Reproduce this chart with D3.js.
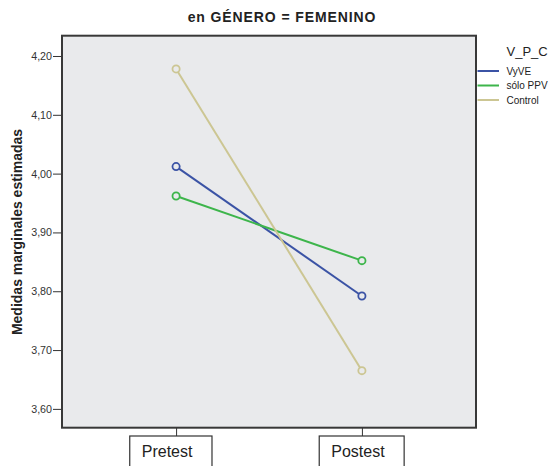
<!DOCTYPE html>
<html><head><meta charset="utf-8">
<script src="https://cdn.jsdelivr.net/npm/d3@7"></script>
<style>body{margin:0;background:#fff;} svg{display:block;font-family:"Liberation Sans",Arial,sans-serif;}</style>
</head><body>
<script>
const categories = ["Pretest", "Postest"];
const seriesNames = ["VyVE", "sólo PPV", "Control"];
const vyve = [4.012, 3.792];
const soloPPV = [3.962, 3.852];
const control = [4.178, 3.665];
const yTicks = [3.60, 3.70, 3.80, 3.90, 4.00, 4.10, 4.20];
const colors = ["#3b53a5", "#3db54b", "#ccc693"];

const W = 556, H = 466;
const m = {l: 62, r: 476, t: 35.7, b: 427.7};
const svg = d3.select("body").append("svg").attr("width", W).attr("height", H);

const x = d3.scalePoint().domain(categories).range([m.l, m.r]).padding(0.614);
const y = d3.scaleLinear().domain([3.568, 4.2345]).range([m.b, m.t]);

svg.append("rect").attr("x", m.l).attr("y", m.t).attr("width", m.r - m.l).attr("height", m.b - m.t)
  .attr("fill", "#e9eaec");

// y axis
const yAxis = svg.append("g").attr("transform", `translate(${m.l},0)`)
  .call(d3.axisLeft(y).tickValues(yTicks).tickSize(9).tickPadding(1).tickFormat(d => d3.format(".2f")(d).replace(".", ",")));
yAxis.select(".domain").remove();
yAxis.selectAll("line").attr("stroke", "#333");
yAxis.selectAll("text").attr("font-size", "10.7px").attr("fill", "#333").attr("font-family", "Liberation Sans, Arial, sans-serif");

// x axis
const xAxis = svg.append("g").attr("transform", `translate(0,${m.b})`)
  .call(d3.axisBottom(x).tickSize(8.5).tickPadding(0).tickFormat(""));
xAxis.select(".domain").remove();
xAxis.selectAll("line").attr("stroke", "#333");
const textOff = {"Pretest": -9, "Postest": -4};
const xLab = svg.append("g");
categories.forEach(c => {
  const g = xLab.append("g");
  const r = g.append("rect");
  const t = g.append("text").attr("x", x(c) + textOff[c]).attr("y", 456.7)
    .attr("text-anchor", "middle").attr("font-size", "16px").attr("fill", "#222").text(c);
  const bb = t.node().getBBox();
  r.attr("x", bb.x - 12).attr("y", 436)
    .attr("width", bb.width + 31).attr("height", 40)
    .attr("fill", "#fff").attr("stroke", "#333").attr("stroke-width", 1.2);
});

// frame
svg.append("rect").attr("x", m.l).attr("y", m.t).attr("width", m.r - m.l).attr("height", m.b - m.t)
  .attr("fill", "none").attr("stroke", "#383838").attr("stroke-width", 2);

// lines
const series = [vyve, soloPPV, control];
const line = d3.line().x((d, i) => x(categories[i])).y(d => y(d));
series.forEach((s, k) => {
  svg.append("path").datum(s).attr("d", line).attr("fill", "none")
    .attr("stroke", colors[k]).attr("stroke-width", 2);
});
series.forEach((s, k) => {
  svg.selectAll(null).data(s).enter().append("circle")
    .attr("cx", (d, i) => x(categories[i])).attr("cy", d => y(d)).attr("r", 3.6)
    .attr("fill", "#e9eaec").attr("stroke", colors[k]).attr("stroke-width", 1.8);
});

// title
svg.append("text").attr("x", 282).attr("y", 21.7).attr("text-anchor", "middle")
  .attr("font-size", "14px").attr("font-weight", "bold").attr("letter-spacing", "0.9px")
  .attr("fill", "#222").text("en GÉNERO = FEMENINO");

// y label
svg.append("text").attr("transform", "translate(22,232) rotate(-90)").attr("text-anchor", "middle")
  .attr("font-size", "14px").attr("font-weight", "bold").attr("fill", "#222")
  .text("Medidas marginales estimadas");

// legend
svg.append("text").attr("x", 506.5).attr("y", 56).attr("font-size", "13px").attr("fill", "#222").text("V_P_C");
const ly = [71, 85.5, 100];
seriesNames.forEach((n, k) => {
  svg.append("line").attr("x1", 477.5).attr("x2", 499).attr("y1", ly[k]).attr("y2", ly[k])
    .attr("stroke", colors[k]).attr("stroke-width", 2);
  svg.append("text").attr("x", 506.5).attr("y", ly[k] + 3.5).attr("font-size", "10px").attr("fill", "#222").text(n);
});
</script>
</body></html>
